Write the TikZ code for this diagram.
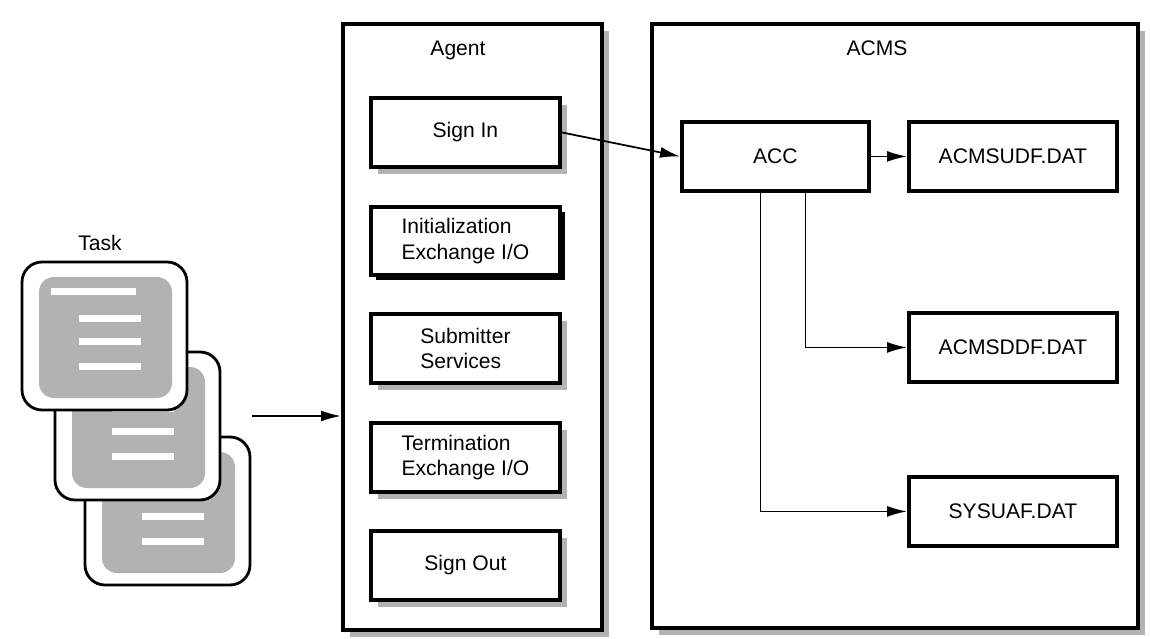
\documentclass[tikz,border=0pt]{standalone}
\usepackage{fontspec}
\setmainfont{Liberation Sans}
\usetikzlibrary{arrows.meta,shadows}

\tikzset{
    box/.style={draw=black, line width=2.2pt, fill=white, inner sep=0pt, anchor=north west},
    grayshadow/.style={drop shadow={fill=black!30, opacity=1, shadow xshift=0.14cm, shadow yshift=-0.14cm}},
    blackshadow/.style={drop shadow={fill=black, opacity=1, shadow xshift=0.1cm, shadow yshift=-0.1cm}},
    link/.style={line width=1pt, -{Latex[length=4mm,width=2.2mm]}},
    }

\begin{document}
\begin{tikzpicture}[x=0.02cm, y=-0.02cm, font=\fontsize{12}{14.5}\selectfont]
\useasboundingbox (0,0) rectangle (1150,639);

% panels
\node[box, grayshadow, minimum width=5.18cm, minimum height=12.12cm] (agent) at (341,22) {};
\node[box, grayshadow, minimum width=9.72cm, minimum height=12.08cm] (acms) at (650,22) {};
\node (agenttitle) at (458,50) {Agent};
\node (acmstitle) at (877,48) {ACMS};

% agent steps
\node[box, grayshadow, minimum width=3.78cm, minimum height=1.38cm] (signin) at (369,96) {Sign In};
\node[box, blackshadow, minimum width=3.78cm, minimum height=1.36cm, align=left] (init) at (369,205) {Initialization\\Exchange I/O};
\node[box, grayshadow, minimum width=3.78cm, minimum height=1.38cm, align=left] (submit) at (369,312) {Submitter\\Services};
\node[box, grayshadow, minimum width=3.78cm, minimum height=1.38cm, align=left] (term) at (369,421) {Termination\\Exchange I/O};
\node[box, grayshadow, minimum width=3.78cm, minimum height=1.38cm] (signout) at (369,529) {Sign Out};

% acms files
\node[box, minimum width=3.74cm, minimum height=1.38cm] (acc) at (680,120) {ACC};
\node[box, minimum width=4.16cm, minimum height=1.38cm] (udf) at (907,120) {ACMSUDF.DAT};
\node[box, minimum width=4.16cm, minimum height=1.38cm] (ddf) at (907,311) {ACMSDDF.DAT};
\node[box, minimum width=4.16cm, minimum height=1.38cm] (uaf) at (907,475) {SYSUAF.DAT};

\draw[link] (signin.east) -- (acc.west);
\draw[link] (acc.east) -- (udf.west);
\draw[link] ([xshift=0.6cm]acc.south) |- (ddf.west);
\draw[link] ([xshift=-0.3cm]acc.south) |- (uaf.west);

% task cards
\node (tasklabel) at (100,243) {Task};
\foreach \dx/\dy in {63/175, 33/90, 0/0} {
  \begin{scope}[shift={(\dx,\dy)}]
    \draw[line width=1.6pt, fill=white, rounded corners=0.4cm] (22,262) rectangle (187,410);
    \fill[black!30, rounded corners=0.3cm] (39,277) rectangle (172,398);
    \fill[white] (51,288) rectangle (136,295);
    \foreach \ly in {315,338,363}
      \fill[white] (79,\ly) rectangle (141,\ly+7);
  \end{scope}
}
\coordinate (taskout) at (252,416);
\draw[link] (taskout) -- (agent.west |- taskout);
\end{tikzpicture}
\end{document}
